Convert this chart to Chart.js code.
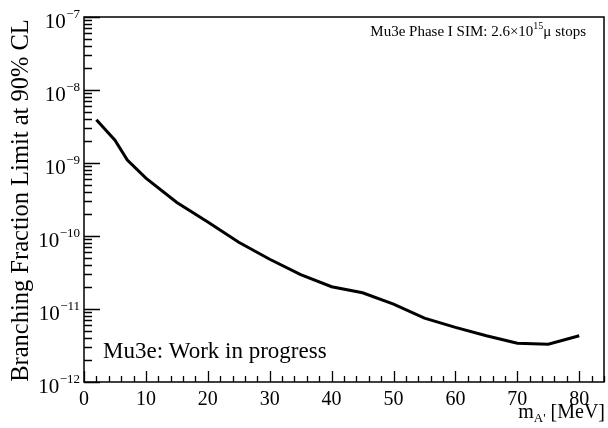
<!DOCTYPE html>
<html>
<head>
<meta charset="utf-8">
<script src="https://cdn.jsdelivr.net/npm/chart.js@4.4.0/dist/chart.umd.min.js"></script>
<style>
html,body{margin:0;padding:0;background:#fff;}
canvas{display:block;}
</style>
</head>
<body>
<canvas id="c" width="608" height="428"></canvas>
<script>
// Data
const massValues = [2, 5, 7, 10, 15, 20, 25, 30, 35, 40, 45, 50, 55, 60, 65, 70, 75, 80];
const limitValues = [3.9e-9, 2.05e-9, 1.1e-9, 6.2e-10, 2.88e-10, 1.55e-10, 8.2e-11, 4.8e-11, 2.95e-11, 2.02e-11, 1.67e-11, 1.17e-11, 7.5e-12, 5.6e-12, 4.3e-12, 3.4e-12, 3.3e-12, 4.3e-12];
const xTickValues = [0, 10, 20, 30, 40, 50, 60, 70, 80];
const yTickExponents = [-12, -11, -10, -9, -8, -7];
const yTitle = "Branching Fraction Limit at 90% CL";
const workLabel = "Mu3e: Work in progress";
const simLabelMain = "Mu3e Phase I SIM: 2.6\u00d710";
const simLabelSup = "15";
const simLabelEnd = "\u03bc stops";

const SERIF = '"Liberation Serif", "DejaVu Serif", serif';

const rootAxes = {
  id: 'rootAxes',
  afterDraw(chart) {
    const ctx = chart.ctx;
    const a = chart.chartArea;
    const xs = chart.scales.x, ys = chart.scales.y;
    ctx.save();
    ctx.strokeStyle = '#000';
    ctx.fillStyle = '#000';
    // frame
    ctx.lineWidth = 1.5;
    ctx.strokeRect(a.left, a.top, a.right - a.left, a.bottom - a.top);
    // y ticks
    ctx.lineWidth = 1.3;
    ctx.beginPath();
    for (const e of yTickExponents) {
      for (let m = 1; m <= 9; m++) {
        const v = m * Math.pow(10, e);
        if (v < ys.min * 0.999 || v > ys.max * 1.001) continue;
        const py = Math.round(ys.getPixelForValue(v)) + 0.5;
        const len = m === 1 ? 16 : 8;
        ctx.moveTo(a.left, py);
        ctx.lineTo(a.left + len, py);
      }
    }
    // x ticks
    for (let v = 0; v <= xs.max + 1e-9; v += 2) {
      const px = Math.round(xs.getPixelForValue(v)) + 0.5;
      const len = (v % 10 === 0) ? 11 : 6;
      ctx.moveTo(px, a.bottom);
      ctx.lineTo(px, a.bottom - len);
    }
    ctx.stroke();

    // y labels
    for (const e of yTickExponents) {
      const py = ys.getPixelForValue(Math.pow(10, e));
      const expStr = '\u2212' + String(-e);
      ctx.font = '13px ' + SERIF;
      const ew = ctx.measureText(expStr).width;
      const ex = a.left - 4 - ew;
      ctx.textAlign = 'left';
      ctx.textBaseline = 'alphabetic';
      ctx.fillText(expStr, ex, py + 0.5);
      ctx.font = '21px ' + SERIF;
      ctx.textAlign = 'right';
      ctx.fillText('10', ex - 0.5, py + 10.5);
    }
    // x labels
    ctx.font = '20px ' + SERIF;
    ctx.textAlign = 'center';
    for (const v of xTickValues) {
      ctx.fillText(String(v), xs.getPixelForValue(v), a.bottom + 23);
    }
    // x title
    ctx.textAlign = 'left';
    const t1 = 'm', t3 = ' [MeV]';
    ctx.font = '20px ' + SERIF; const w1 = ctx.measureText(t1).width; const w3 = ctx.measureText(t3).width;
    ctx.font = '13px ' + SERIF; const w2 = ctx.measureText("A'").width;
    let tx = a.right + 1 - (w1 + w2 + w3);
    const tb = a.bottom + 36;
    ctx.font = '20px ' + SERIF; ctx.fillText(t1, tx, tb); tx += w1;
    ctx.font = '13px ' + SERIF; ctx.fillText("A'", tx, tb + 4); tx += w2;
    ctx.font = '20px ' + SERIF; ctx.fillText(t3, tx, tb);
    // y title
    ctx.save();
    ctx.translate(28, (a.top + a.bottom) / 2 + 1);
    ctx.rotate(-Math.PI / 2);
    ctx.font = '24.5px ' + SERIF;
    ctx.textAlign = 'center';
    ctx.fillText(yTitle, 0, 0);
    ctx.restore();
    // work label
    ctx.font = '23px ' + SERIF;
    ctx.textAlign = 'left';
    ctx.fillText(workLabel, 103, 358);
    // sim label
    ctx.font = '15px ' + SERIF;
    const s1 = ctx.measureText(simLabelMain).width;
    ctx.font = '10px ' + SERIF;
    const s2 = ctx.measureText(simLabelSup).width;
    ctx.font = '15px ' + SERIF;
    const s3 = ctx.measureText(simLabelEnd).width;
    let sx = 586 - (s1 + s2 + s3);
    const sb = 36;
    ctx.fillText(simLabelMain, sx, sb); sx += s1;
    ctx.font = '10px ' + SERIF; ctx.fillText(simLabelSup, sx, sb - 7); sx += s2;
    ctx.font = '15px ' + SERIF; ctx.fillText(simLabelEnd, sx, sb);
    ctx.restore();
  }
};

new Chart(document.getElementById('c'), {
  type: 'line',
  data: {
    datasets: [{
      data: massValues.map((m, i) => ({x: m, y: limitValues[i]})),
      borderColor: '#000',
      borderWidth: 3,
      pointRadius: 0,
      tension: 0,
      fill: false
    }]
  },
  options: {
    responsive: false,
    devicePixelRatio: 1,
    animation: false,
    layout: { padding: { left: 84, top: 17, right: 4, bottom: 46 } },
    plugins: { legend: { display: false }, tooltip: { enabled: false } },
    scales: {
      x: { type: 'linear', min: 0, max: 84, display: false },
      y: { type: 'logarithmic', min: 1e-12, max: 1e-7, display: false }
    }
  },
  plugins: [rootAxes]
});
</script>
</body>
</html>
